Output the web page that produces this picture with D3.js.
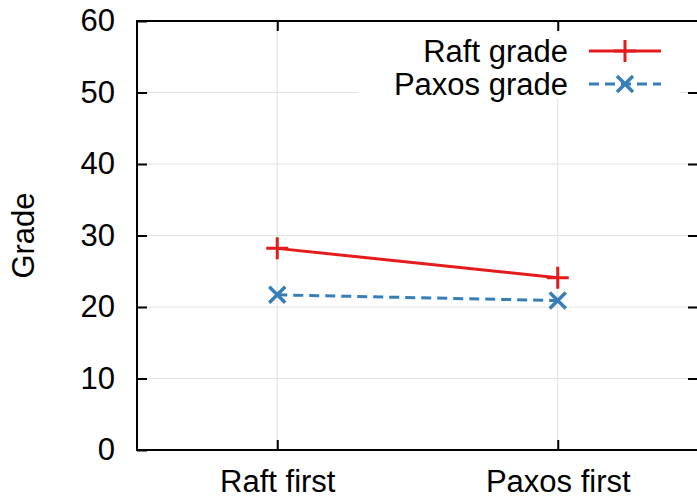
<!DOCTYPE html>
<html>
<head>
<meta charset="utf-8">
<script src="https://cdn.jsdelivr.net/npm/d3@7"></script>
<style>
  body { margin: 0; background: #fff; }
  text { font-family: "Liberation Sans", Arial, sans-serif; fill: #000; }
</style>
</head>
<body>
<svg id="chart" width="697" height="496"></svg>
<script>
// data
var categories = ["Raft first", "Paxos first"];
var raftGrade = [28.2, 24.1];
var paxosGrade = [21.7, 20.9];
var yTicks = [0, 10, 20, 30, 40, 50, 60];
var seriesNames = ["Raft grade", "Paxos grade"];

var svg = d3.select("#chart");
var mLeft = 137, mRight = 698, mTop = 21, mBottom = 450;
var fontSize = "31px";

var x = d3.scaleLinear().domain([-0.5, 1.5]).range([mLeft, mRight]);
var y = d3.scaleLinear().domain([0, 60]).range([mBottom, mTop]);

// grid
var grid = svg.append("g");
grid.selectAll(".gy").data(yTicks.slice(1, -1)).enter().append("line")
  .attr("x1", mLeft).attr("x2", mRight)
  .attr("y1", d => y(d)).attr("y2", d => y(d))
  .attr("stroke", "#e2e2e2").attr("stroke-width", 1);
grid.selectAll(".gx").data(categories).enter().append("line")
  .attr("x1", (d, i) => x(i)).attr("x2", (d, i) => x(i))
  .attr("y1", mTop).attr("y2", mBottom)
  .attr("stroke", "#e2e2e2").attr("stroke-width", 1);

// axes, ticks pointing inward (gnuplot style, mirrored)
var yAxis = d3.axisLeft(y).tickValues(yTicks).tickSize(-10).tickPadding(22);
var yAxisR = d3.axisRight(y).tickValues(yTicks.slice(1, -1)).tickSize(-10).tickFormat("");
var xAxis = d3.axisBottom(x).tickValues([0, 1]).tickSize(-10).tickPadding(20)
  .tickFormat(d => categories[d]);
var xAxisT = d3.axisTop(x).tickValues([0, 1]).tickSize(-10).tickFormat("");

function style(g) {
  g.select(".domain").remove();
  g.selectAll(".tick line").attr("stroke", "#000").attr("stroke-width", 2);
  g.selectAll(".tick text").style("font-size", fontSize)
    .style("font-family", "'Liberation Sans', Arial, sans-serif");
}
svg.append("g").attr("transform", "translate(" + mLeft + ",0)").call(yAxis).call(style);
svg.append("g").attr("transform", "translate(" + mRight + ",0)").call(yAxisR).call(style);
svg.append("g").attr("transform", "translate(0," + mBottom + ")").call(xAxis).call(style);
svg.append("g").attr("transform", "translate(0," + mTop + ")").call(xAxisT).call(style);

svg.append("text")
  .attr("transform", "translate(34," + ((mTop + mBottom) / 2) + ") rotate(-90)")
  .attr("text-anchor", "middle")
  .style("font-size", fontSize)
  .text("Grade");

// legend box (white, covers grid)
svg.append("rect")
  .attr("x", 358).attr("y", 33).attr("width", 322).attr("height", 65)
  .attr("fill", "#fff");

var red = "#e41a1c", blue = "#377eb8";
var line = d3.line().x((d, i) => x(i)).y(d => y(d));

function plus(g, cx, cy, col) {
  g.append("path")
    .attr("d", "M" + (cx - 11) + "," + cy + "H" + (cx + 11) + "M" + cx + "," + (cy - 11) + "V" + (cy + 11))
    .attr("stroke", col).attr("stroke-width", 3).attr("fill", "none");
}
function cross(g, cx, cy, col) {
  var r = 8;
  g.append("path")
    .attr("d", "M" + (cx - r) + "," + (cy - r) + "L" + (cx + r) + "," + (cy + r) +
      "M" + (cx - r) + "," + (cy + r) + "L" + (cx + r) + "," + (cy - r))
    .attr("stroke", col).attr("stroke-width", 3.5).attr("fill", "none");
}

// series
var plot = svg.append("g");
plot.append("path").datum(raftGrade).attr("d", line)
  .attr("stroke", red).attr("stroke-width", 3).attr("fill", "none");
raftGrade.forEach((v, i) => plus(plot, x(i), y(v), red));

plot.append("path").datum(paxosGrade).attr("d", line)
  .attr("stroke", blue).attr("stroke-width", 3).attr("fill", "none")
  .attr("stroke-dasharray", "10,6");
paxosGrade.forEach((v, i) => cross(plot, x(i), y(v), blue));

// legend entries
var legend = svg.append("g");
var lx1 = 589, lx2 = 661, ly = [51, 84];
seriesNames.forEach((name, i) => {
  legend.append("text")
    .attr("x", 568).attr("y", ly[i] + 11)
    .attr("text-anchor", "end")
    .style("font-size", fontSize)
    .text(name);
  var col = i === 0 ? red : blue;
  legend.append("line")
    .attr("x1", lx1).attr("x2", lx2).attr("y1", ly[i]).attr("y2", ly[i])
    .attr("stroke", col).attr("stroke-width", 3)
    .attr("stroke-dasharray", i === 0 ? null : "10,6");
  if (i === 0) plus(legend, (lx1 + lx2) / 2, ly[i], col);
  else cross(legend, (lx1 + lx2) / 2, ly[i], col);
});

// border
svg.append("rect")
  .attr("x", mLeft).attr("y", mTop).attr("width", mRight - mLeft).attr("height", mBottom - mTop)
  .attr("fill", "none").attr("stroke", "#000").attr("stroke-width", 2);
</script>
</body>
</html>
